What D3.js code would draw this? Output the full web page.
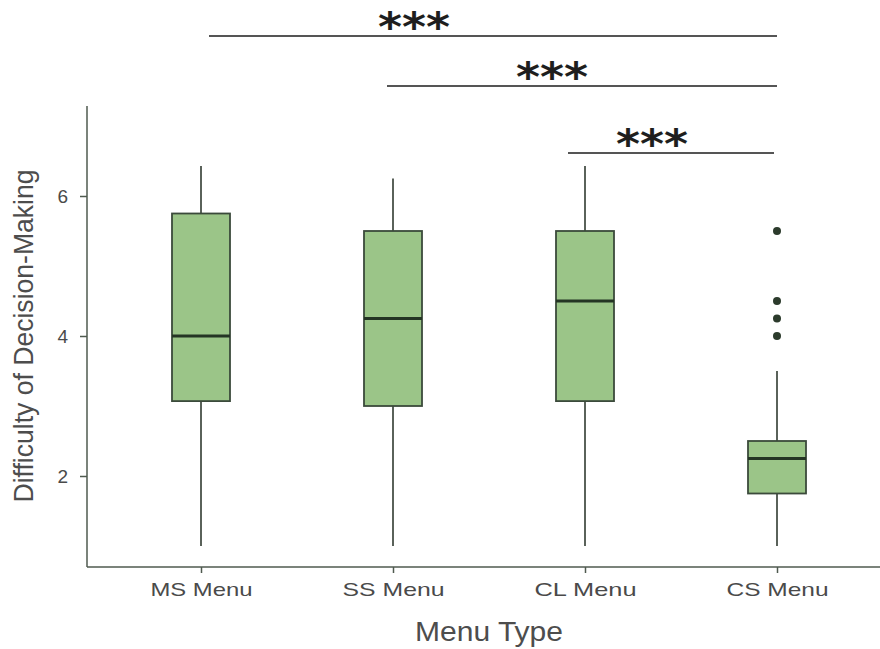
<!DOCTYPE html>
<html>
<head>
<meta charset="utf-8">
<script src="https://cdn.jsdelivr.net/npm/d3@7"></script>
<style>
  body { margin: 0; background: #fff; }
  svg { display: block; }
  .tick text { font-family: "Liberation Sans", Arial, sans-serif; fill: #4a4a4a; }
</style>
</head>
<body>
<svg width="880" height="649"></svg>
<script>
// menu types on the x axis
const categories = ['MS Menu', 'SS Menu', 'CL Menu', 'CS Menu'];

// box stats
const whiskerLow  = [1, 1, 1, 1];
const q1          = [3.07, 3, 3.07, 1.75];
const median      = [4, 4.25, 4.5, 2.25];
const q3          = [5.75, 5.5, 5.5, 2.5];
const whiskerHigh = [6.43, 6.25, 6.43, 3.5];

// outliers (category index, value)
const outlierCat = [3, 3, 3, 3];
const outlierVal = [5.5, 4.5, 4.25, 4];

// significance brackets (from, to)
const sigFrom = ['MS Menu', 'SS Menu', 'CL Menu'];
const sigTo   = ['CS Menu', 'CS Menu', 'CS Menu'];
const sigLabel = ['***', '***', '***'];

const yTicks = [2, 4, 6];

const svg = d3.select('svg');

// set the ranges
let x = d3.scalePoint().domain(categories).range([201, 777]);
let y = d3.scaleLinear().domain([2, 6]).range([476, 196]);

const axisLeftX = 87, axisBottomY = 567;
const boxW = 58;
const axisColor = '#4f5a4f';

// y axis
let gy = svg.append('g')
	.attr('transform', `translate(${axisLeftX},0)`)
	.call(d3.axisLeft(y).tickValues(yTicks).tickSize(7).tickPadding(12).tickFormat(d3.format('d')));
gy.select('.domain').remove();
gy.selectAll('.tick line').attr('stroke', axisColor).attr('stroke-width', 1.5);
gy.selectAll('.tick text').style('font-size', '19px');
svg.append('line')
	.attr('x1', axisLeftX).attr('x2', axisLeftX)
	.attr('y1', 106).attr('y2', axisBottomY)
	.attr('stroke', axisColor).attr('stroke-width', 1.5);

// x axis
let gx = svg.append('g')
	.attr('transform', `translate(0,${axisBottomY})`)
	.call(d3.axisBottom(x).tickSize(6).tickPadding(10));
gx.select('.domain').remove();
gx.selectAll('.tick line').attr('stroke', axisColor).attr('stroke-width', 1.5);
gx.selectAll('.tick text').style('font-size', '19px')
	.attr('textLength', 102).attr('lengthAdjust', 'spacingAndGlyphs');
svg.append('line')
	.attr('x1', axisLeftX).attr('x2', 880)
	.attr('y1', axisBottomY).attr('y2', axisBottomY)
	.attr('stroke', axisColor).attr('stroke-width', 1.5);

// axis titles
svg.append('text')
	.attr('transform', `translate(33,336) rotate(-90)`)
	.attr('text-anchor', 'middle')
	.attr('font-family', '"Liberation Sans", Arial, sans-serif')
	.attr('font-size', 27)
	.attr('fill', '#4d4d4d')
	.attr('textLength', 333)
	.attr('lengthAdjust', 'spacingAndGlyphs')
	.text('Difficulty of Decision-Making');

svg.append('text')
	.attr('x', 489).attr('y', 641)
	.attr('text-anchor', 'middle')
	.attr('font-family', '"Liberation Sans", Arial, sans-serif')
	.attr('font-size', 27)
	.attr('fill', '#4d4d4d')
	.attr('textLength', 148)
	.attr('lengthAdjust', 'spacingAndGlyphs')
	.text('Menu Type');

// boxes
let boxes = svg.append('g');
categories.forEach((c, i) => {
	let cx = x(c);
	// whisker
	boxes.append('line')
		.attr('x1', cx).attr('x2', cx)
		.attr('y1', y(whiskerLow[i])).attr('y2', y(whiskerHigh[i]))
		.attr('stroke', '#5a625a').attr('stroke-width', 2);
	// box
	boxes.append('rect')
		.attr('x', cx - boxW / 2).attr('width', boxW)
		.attr('y', y(q3[i])).attr('height', y(q1[i]) - y(q3[i]))
		.attr('fill', '#9bc588')
		.attr('stroke', '#3b4a3b').attr('stroke-width', 1.8);
	// median
	boxes.append('line')
		.attr('x1', cx - boxW / 2).attr('x2', cx + boxW / 2)
		.attr('y1', y(median[i])).attr('y2', y(median[i]))
		.attr('stroke', '#243524').attr('stroke-width', 2.8);
});

// outliers
svg.append('g').selectAll('circle')
	.data(outlierVal)
	.join('circle')
	.attr('cx', (d, i) => x(categories[outlierCat[i]]))
	.attr('cy', d => y(d))
	.attr('r', 4)
	.attr('fill', '#2c3b2c');

// significance brackets
const sigY = [36, 86, 153];
const sigX1 = [209, 387, 568];
const sigX2 = [777, 777, 774];
sigFrom.forEach((f, i) => {
	svg.append('line')
		.attr('x1', sigX1[i]).attr('x2', sigX2[i])
		.attr('y1', sigY[i]).attr('y2', sigY[i])
		.attr('stroke', '#555').attr('stroke-width', 2);
	svg.append('text')
		.attr('x', [414, 552, 652][i]).attr('y', sigY[i] + 5)
		.attr('text-anchor', 'middle')
		.attr('font-family', '"DejaVu Sans", sans-serif')
		.attr('font-size', 40)
		.attr('font-weight', 'bold')
		.attr('fill', '#1e1e1e')
		.attr('textLength', 72)
		.attr('lengthAdjust', 'spacingAndGlyphs')
		.text(sigLabel[i]);
});
</script>
</body>
</html>
